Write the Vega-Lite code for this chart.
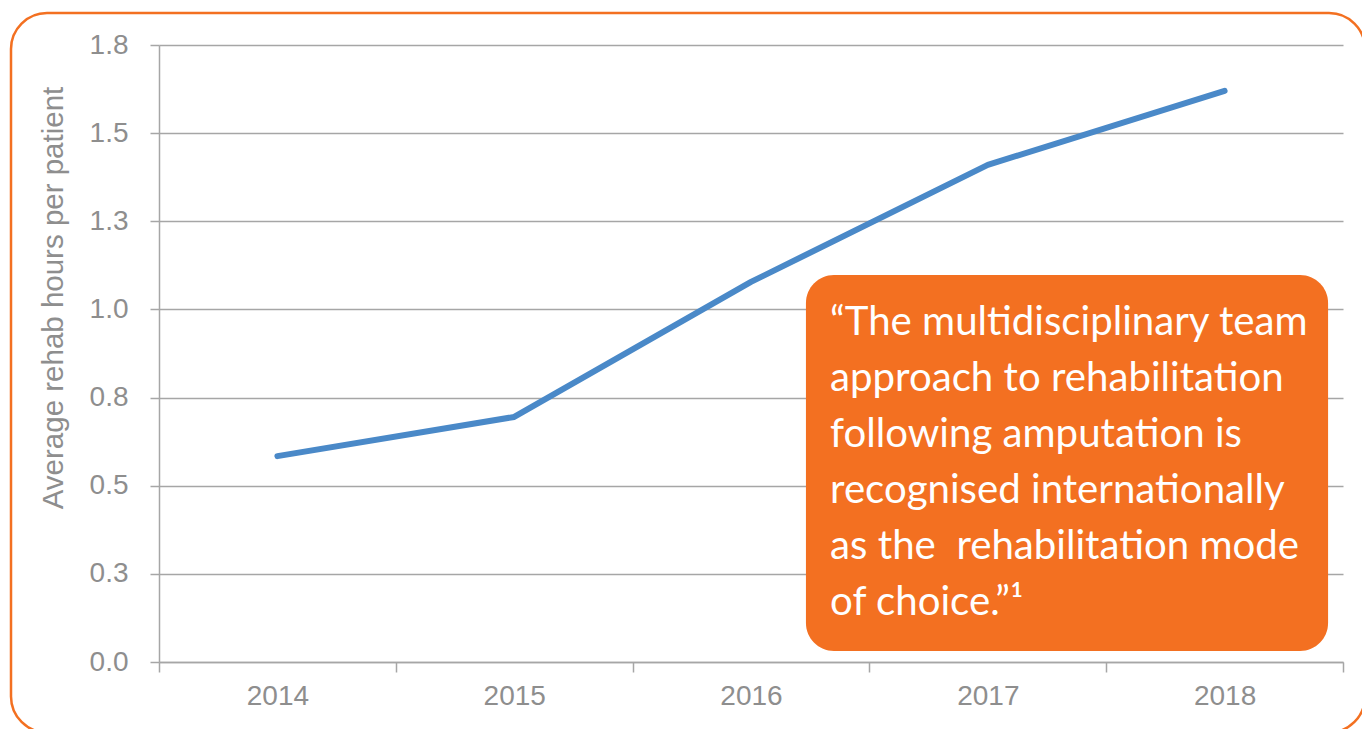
{
  "$schema": "https://vega.github.io/schema/vega-lite/v6.json",
  "width": 1184,
  "height": 617,
  "autosize": {"type": "none"},
  "padding": {"left": 159, "top": 45, "right": 19, "bottom": 67},
  "background": "white",
  "config": {"view": {"stroke": null}, "font": "Liberation Sans"},
  "datasets": {
    "rehab": [
      {"year": "2014", "hours": 0.584},
      {"year": "2015", "hours": 0.695},
      {"year": "2016", "hours": 1.078},
      {"year": "2017", "hours": 1.41},
      {"year": "2018", "hours": 1.62}
    ],
    "quote": [
      {"text": ["\u201cThe multidisciplinary team", "approach to rehabilitation", "following amputation is", "recognised internationally", "as the \u00a0rehabilitation mode", "of choice.\u201d\u00b9"]}
    ]
  },
  "layer": [
    {
      "data": {"name": "rehab"},
      "mark": {"type": "line", "color": "#4A89C8", "strokeWidth": 6, "strokeCap": "round", "strokeJoin": "round"},
      "encoding": {
        "x": {
          "field": "year", "type": "ordinal",
          "scale": {"type": "band", "paddingInner": 0, "paddingOuter": 0},
          "axis": {"title": null, "tickBand": "extent", "labelAngle": 0, "labelFontSize": 28, "labelColor": "#8E8E8E", "labelPadding": 10, "tickColor": "#A6A6A6", "tickSize": 10, "tickWidth": 1.5, "domainColor": "#A6A6A6", "domainWidth": 1.5, "grid": false}
        },
        "y": {
          "field": "hours", "type": "quantitative",
          "scale": {"domain": [0, 1.75], "nice": false},
          "axis": {"values": [0, 0.25, 0.5, 0.75, 1, 1.25, 1.5, 1.75], "format": ".1f", "title": "Average rehab hours per patient", "titleFontSize": 29.5, "titleFontWeight": "normal", "titleColor": "#8E8E8E", "titleX": -91, "titleY": 252.5, "titleAngle": -90, "labelFontSize": 28, "labelColor": "#8E8E8E", "labelPadding": 22, "tickSize": 9, "tickColor": "#A6A6A6", "tickWidth": 1.5, "domainColor": "#A6A6A6", "domainWidth": 1.5, "grid": true, "gridColor": "#A6A6A6", "gridWidth": 1.5}
        }
      }
    },
    {
      "data": {"values": [{}]},
      "mark": {"type": "rect", "fill": "#F37021", "cornerRadius": 28},
      "encoding": {
        "x": {"datum": 2.732, "type": "quantitative", "scale": {"domain": [0, 5], "nice": false, "zero": false}, "axis": null},
        "x2": {"datum": 4.937},
        "y": {"datum": 1.098, "type": "quantitative", "scale": {"domain": [0, 1.75], "nice": false}},
        "y2": {"datum": 0.031}
      }
    },
    {
      "data": {"name": "quote"},
      "mark": {"type": "text", "align": "left", "baseline": "alphabetic", "font": "Lato", "fontSize": 40.2, "color": "white", "lineHeight": 56},
      "encoding": {
        "x": {"datum": 2.834, "type": "quantitative", "scale": {"domain": [0, 5], "nice": false, "zero": false}, "axis": null},
        "y": {"datum": 0.9275, "type": "quantitative", "scale": {"domain": [0, 1.75], "nice": false}},
        "text": {"field": "text"}
      }
    },
    {
      "data": {"values": [{}]},
      "mark": {"type": "rect", "fillOpacity": 0, "fill": "white", "stroke": "#F37021", "strokeWidth": 2.5, "cornerRadius": 36},
      "encoding": {
        "x": {"datum": -0.625, "type": "quantitative", "scale": {"domain": [0, 5], "nice": false, "zero": false}, "axis": null},
        "x2": {"datum": 5.093},
        "y": {"datum": 1.8408, "type": "quantitative", "scale": {"domain": [0, 1.75], "nice": false}},
        "y2": {"datum": -0.2}
      }
    }
  ],
  "resolve": {"scale": {"x": "independent"}}
}
